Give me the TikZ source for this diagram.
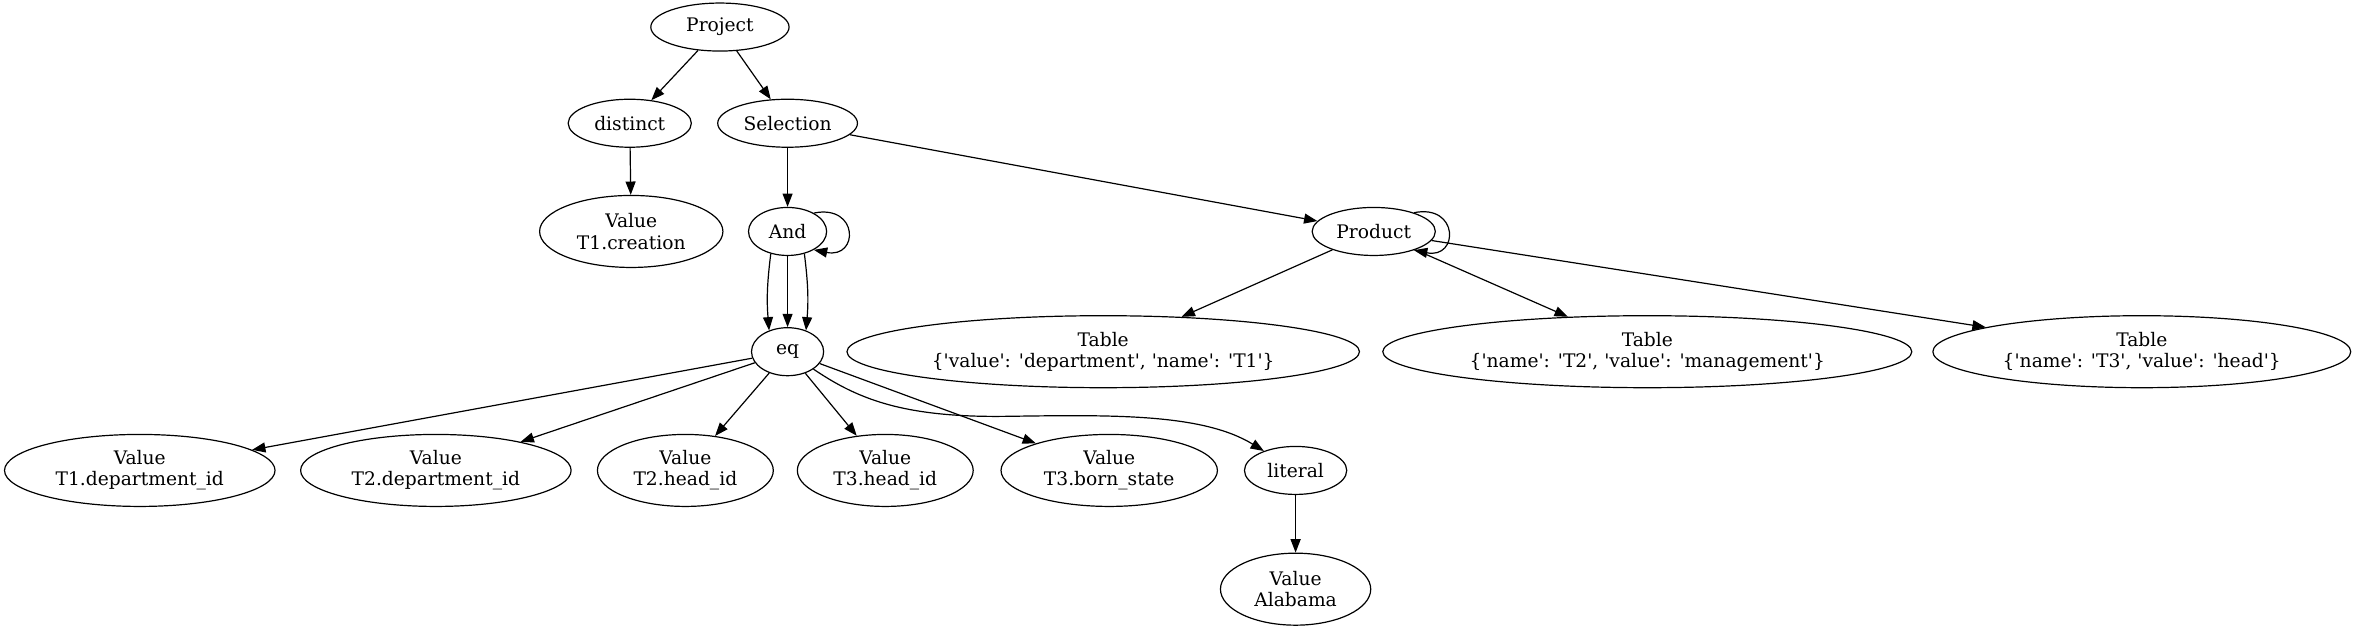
\documentclass[tikz,border=0pt]{standalone}
\usepackage{fontspec}
\setmainfont{DejaVu Serif}
\usetikzlibrary{
  arrows.meta,
  shapes
}
\newcommand{\quoted}[1]{\textquotesingle#1\textquotesingle}

\begin{document}
\begin{tikzpicture}[
  x=1.1273pt, y=-1.1273pt, line width=0.9pt,
  every node/.style = {shape=ellipse, draw, align=center,
    inner sep=1pt, minimum height=36pt,
    font=\fontsize{14pt}{16pt}\selectfont},
  tall/.style = {minimum height=54pt},
  link/.style = {-{Triangle[length=10pt,width=7.5pt]}}]
  \useasboundingbox (0,0) rectangle (1568.2,421.1);
  \node[minimum width=103.7pt] (project) at (479,18) {Project};
  \node[minimum width=92.4pt] (distinct) at (419,82) {distinct};
  \node[minimum width=104.8pt] (selection) at (524,82) {Selection};
  \node[tall, minimum width=137.5pt] (creation) at (420,154) {Value\\T1.creation};
  \node[minimum width=58.6pt] (and) at (524,154) {And};
  \node[minimum width=92.4pt] (product) at (914,154) {Product};
  \node[minimum width=54.1pt] (eq) at (524,234) {eq};
  \node[tall, minimum width=384.4pt] (tab1) at (734,234)
    {Table\\\{\quoted{value}: \quoted{department}, \quoted{name}: \quoted{T1}\}};
  \node[tall, minimum width=396.8pt] (tab2) at (1096,234)
    {Table\\\{\quoted{name}: \quoted{T2}, \quoted{value}: \quoted{management}\}};
  \node[tall, minimum width=313.4pt] (tab3) at (1425,234)
    {Table\\\{\quoted{name}: \quoted{T3}, \quoted{value}: \quoted{head}\}};
  \node[tall, minimum width=202.9pt] (v1) at (93,313) {Value\\T1.department\_id};
  \node[tall, minimum width=202.9pt] (v2) at (290,313) {Value\\T2.department\_id};
  \node[tall, minimum width=131.9pt] (v3) at (456,313) {Value\\T2.head\_id};
  \node[tall, minimum width=131.9pt] (v4) at (589,313) {Value\\T3.head\_id};
  \node[tall, minimum width=162.3pt] (v5) at (738,313) {Value\\T3.born\_state};
  \node[minimum width=76.7pt] (literal) at (862,313) {literal};
  \node[tall, minimum width=112.7pt] (alabama) at (862,392) {Value\\Alabama};

  \draw[link] (project) -- (distinct);
  \draw[link] (project) -- (selection);
  \draw[link] (distinct) -- (creation);
  \draw[link] (selection) -- (and);
  \draw[link] (selection) -- (product);
  \draw[link] (and.35) .. controls +(30,-6) and +(30,6) .. (and.-35);
  \draw[link] (and.-127) to[bend right=6] (eq.131);
  \draw[link] (and) -- (eq);
  \draw[link] (and.-53) to[bend left=6] (eq.49);
  \draw[link] (product.25) .. controls +(30,-6) and +(30,6) .. (product.-25);
  \draw[link] (product) -- (tab1);
  \draw[link] (product) -- (tab2);
  \draw[link] (product) -- (tab3);
  \draw[link] (eq) -- (v1);
  \draw[link] (eq) -- (v2);
  \draw[link] (eq) -- (v3);
  \draw[link] (eq) -- (v4);
  \draw[link] (eq) -- (v5);
  \draw[link] (eq) .. controls (570,265) and (600,278) .. (670,277)
    .. controls (740,276) and (800,275) .. (literal);
  \draw[link] (literal) -- (alabama);
\end{tikzpicture}
\end{document}
